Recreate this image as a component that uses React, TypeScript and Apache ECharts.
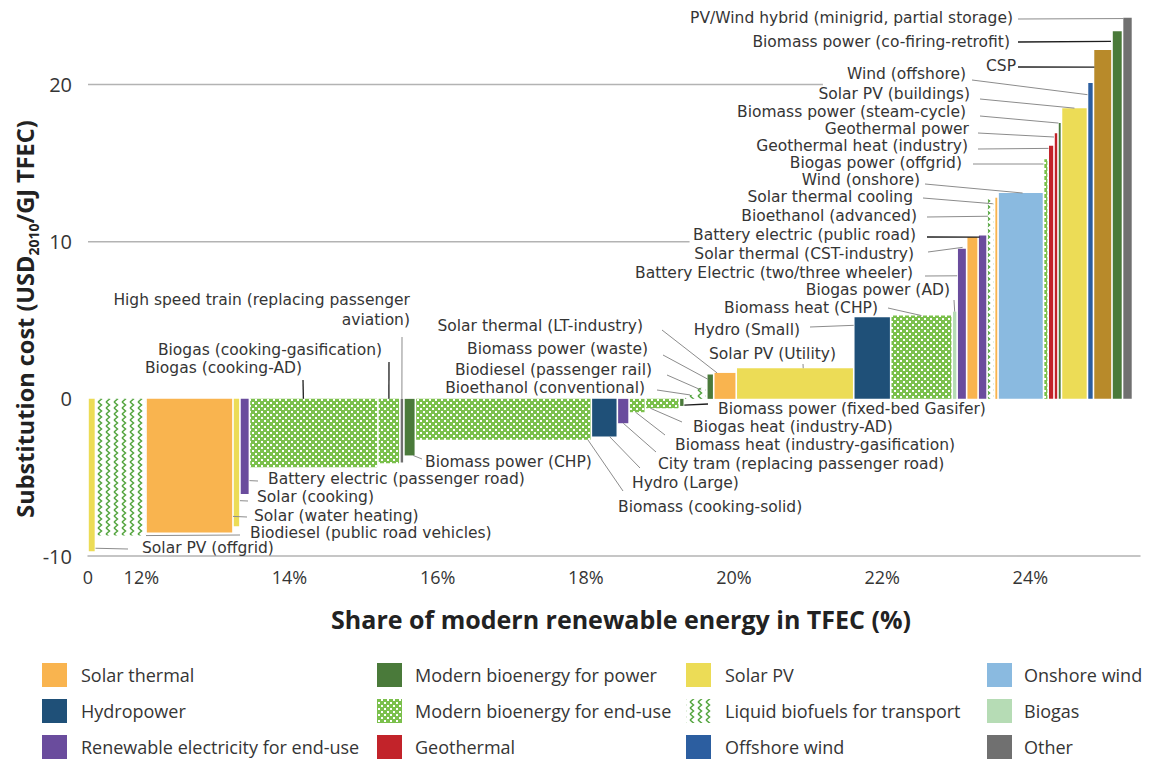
import React, { useEffect, useRef } from "react";
import * as echarts from "echarts";

// ---------------- DATA ----------------
const BASE_SHARE = 11.28; // share (%) at the start of the curve, labelled "0"
const X_MAX = 25.48;
const Y_MIN = -10;
const Y_MAX = 25;

const techNames = [
  "Solar PV (offgrid)",
  "Biodiesel (public road vehicles)",
  "Solar (water heating)",
  "Solar (cooking)",
  "Battery electric (passenger road)",
  "Biogas (cooking-AD)",
  "Biogas (cooking-gasification)",
  "High speed train (replacing passenger\naviation)",
  "Biomass power (CHP)",
  "Biomass (cooking-solid)",
  "Hydro (Large)",
  "City tram (replacing passenger road)",
  "Biomass heat (industry-gasification)",
  "Biogas heat (industry-AD)",
  "Biomass power (fixed-bed Gasifer)",
  "Bioethanol (conventional)",
  "Biodiesel (passenger rail)",
  "Biomass power (waste)",
  "Solar thermal (LT-industry)",
  "Solar PV (Utility)",
  "Hydro (Small)",
  "Biomass heat (CHP)",
  "Biogas power (AD)",
  "Battery Electric (two/three wheeler)",
  "Solar thermal (CST-industry)",
  "Battery electric (public road)",
  "Bioethanol (advanced)",
  "Solar thermal cooling",
  "Wind (onshore)",
  "Biogas power (offgrid)",
  "Geothermal heat (industry)",
  "Geothermal power",
  "Biomass power (steam-cycle)",
  "Solar PV (buildings)",
  "Wind (offshore)",
  "CSP",
  "Biomass power (co-firing-retrofit)",
  "PV/Wind hybrid (minigrid, partial storage)",
];

// added share of modern renewables in TFEC (percentage points)
const shareAdded = [
  0.101, 0.682, 1.174, 0.094, 0.128, 1.734, 0.297, 0.054, 0.155, 2.375,
  0.351, 0.159, 0.219, 0.459, 0.067, 0.155, 0.148, 0.094, 0.304, 1.586,
  0.499, 0.83, 0.067, 0.128, 0.155, 0.121, 0.101, 0.047, 0.614, 0.063,
  0.078, 0.054, 0.047, 0.351, 0.081, 0.25, 0.142, 0.135,
];

// substitution cost (USD2010/GJ TFEC)
const costs = [
  -9.7, -8.7, -8.5, -8.1, -6.05, -4.35, -4.1, -4.05, -3.6, -2.6,
  -2.4, -1.55, -0.85, -0.6, -0.45, 0.25, 0.7, 1.55, 1.65, 1.95,
  5.2, 5.3, 5.55, 9.55, 10.3, 10.4, 12.7, 12.8, 13.1, 15.25,
  16.1, 16.9, 17.55, 18.5, 20.1, 22.2, 23.4, 24.25,
];

const techGroup = [
  "pv", "liquid", "solarThermal", "pv", "elec", "bioEnd", "bioEnd", "other", "bioPower", "bioEnd",
  "hydro", "elec", "bioEnd", "bioEnd", "bioPower", "liquid", "liquid", "bioPower", "solarThermal", "pv",
  "hydro", "bioEnd", "biogas", "elec", "solarThermal", "elec", "liquid", "solarThermal", "onshore", "bioEnd",
  "geo", "geo", "bioPower", "pv", "offshore", "csp", "bioPower", "other",
];

const xTickValues = [BASE_SHARE, 12, 14, 16, 18, 20, 22, 24];
const yTickValues = [-10, 0, 10, 20];

const legendKeys = [
  ["solarThermal", "hydro", "elec"],
  ["bioPower", "bioEnd", "geo"],
  ["pv", "liquid", "offshore"],
  ["onshore", "biogas", "other"],
];
const legendLabels = [
  ["Solar thermal", "Hydropower", "Renewable electricity for end-use"],
  ["Modern bioenergy for power", "Modern bioenergy for end-use", "Geothermal"],
  ["Solar PV", "Liquid biofuels for transport", "Offshore wind"],
  ["Onshore wind", "Biogas", "Other"],
];

// ---------------- STYLE / LAYOUT ----------------
const FONT = '"Open Sans", "Noto Sans", sans-serif';
const LABEL_FONT = '"DejaVu Sans", "Open Sans", sans-serif';
const TITLE_FONT = '"Open Sans", Roboto, sans-serif';
const TEXT = "#353535";

const COLORS: Record<string, string> = {
  solarThermal: "#f9b44f",
  hydro: "#1f5078",
  elec: "#6a4c9d",
  bioPower: "#4a7a3a",
  geo: "#c2232a",
  pv: "#ecdc56",
  offshore: "#2c5ea0",
  onshore: "#8abae0",
  biogas: "#b6dcb5",
  other: "#707070",
  csp: "#b88a2a",
};

// label annotation layout: [textX, textY, align, leaderX, leaderY, barFracX, barFracY, dark]
const LABEL_LAYOUT: any[] = [
  [142, 548, "left", 128, 549, 1, 0.98, 0],
  [250, 533, "left", 240, 535, 1, 1, 0],
  [254, 516, "left", 247, 517, 1, 0.88, 0],
  [257, 497, "left", 248, 501, 1, 0.8, 0],
  [268, 479, "left", 258, 481, 1, 0.86, 0],
  [302, 368, "right", 303, 380, 0.42, 0, 1],
  [382, 350, "right", 389, 362, 0.5, 0, 1],
  [410, 310, "right", 402, 337, 0.5, 0, 0],
  [425, 462, "left", 422, 459, 0.8, 1, 0],
  [618, 507, "left", 623, 491, 0.98, 1, 0],
  [632, 483, "left", 640, 468, 0.7, 1, 0],
  [658, 464, "left", 656, 452, 0.5, 1, 0],
  [675, 445, "left", 665, 435, 0.4, 1, 0],
  [693, 427, "left", 682, 422, 0.15, 1, 0],
  [718, 409, "left", 708, 404, 1, 0.9, 1],
  [645, 388, "right", 657, 390, 0.5, 1, 0],
  [652, 370, "right", 667, 375, 0.5, 0.8, 0],
  [648, 349, "right", 663, 355, 0.2, 0.8, 0],
  [643, 326, "right", 662, 330, 0.15, 1, 0],
  [709, 354, "left", 803, 364, 0.57, 1, 0],
  [800, 330, "right", 810, 327, 0, 0.9, 0],
  [878, 308, "right", 888, 308, 0.5, 1, 0],
  [950, 290, "right", 954, 300, 0.5, 1, 0],
  [913, 273, "right", 925, 276, 0, 0.82, 0],
  [914, 254, "right", 928, 252, -0.35, 0.936, 0],
  [916, 235, "right", 927, 237, 0.17, 0.99, 1],
  [917, 216, "right", 927, 217, 0.1, 0.915, 0],
  [913, 197, "right", 923, 198, -0.5, 0.97, 0],
  [920, 180, "right", 925, 184, 0.54, 1, 0],
  [962, 163, "right", 973, 164, 0, 0.98, 0],
  [968, 146, "right", 978, 149, 0.05, 0.99, 0],
  [969, 129, "right", 978, 133, 0, 0.986, 0],
  [966, 112, "right", 980, 116, 0.15, 1, 0],
  [970, 94, "right", 980, 99, 0.5, 1, 0],
  [966, 74, "right", 972, 80, 0, 0.963, 0],
  [1016, 66, "right", 1018, 67, 0.05, 0.951, 1],
  [1010, 42, "right", 1018, 42, -0.1, 0.972, 1],
  [1013, 18, "right", 1018, 19, 0.1, 0.998, 0],
];

function makeDotPattern() {
  const c = document.createElement("canvas");
  c.width = 6;
  c.height = 6;
  const g = c.getContext("2d")!;
  g.fillStyle = "#7bc04c";
  g.fillRect(0, 0, 6, 6);
  g.fillStyle = "#ffffff";
  g.fillRect(0, 0, 2, 2);
  g.fillRect(3, 3, 2, 2);
  return { image: c, repeat: "repeat", imageWidth: 6, imageHeight: 6 };
}

function makeZigzagPattern() {
  const c = document.createElement("canvas");
  c.width = 8;
  c.height = 6;
  const g = c.getContext("2d")!;
  g.fillStyle = "#ffffff";
  g.fillRect(0, 0, 8, 6);
  g.strokeStyle = "#55a540";
  g.lineWidth = 1.5;
  g.beginPath();
  g.moveTo(2, 0);
  g.lineTo(5.5, 3);
  g.lineTo(2, 6);
  g.stroke();
  return { image: c, repeat: "repeat", imageWidth: 8, imageHeight: 6 };
}

export default function App() {
  const ref = useRef<HTMLDivElement>(null);

  useEffect(() => {
    const chart = echarts.init(ref.current!, null, { renderer: "svg" });
    const dots = makeDotPattern();
    const zig = makeZigzagPattern();
    const fillFor = (g: string): any =>
      g === "bioEnd" ? dots : g === "liquid" ? zig : COLORS[g];

    // cumulative positions built from the added shares
    const data: number[][] = [];
    let acc = BASE_SHARE;
    shareAdded.forEach((w, i) => {
      data.push([acc, acc + w, costs[i], i]);
      acc += w;
    });

    const GAP = 0.8;
    const renderItem = (params: any, api: any) => {
      const i = api.value(3);
      const p0 = api.coord([api.value(0), 0]);
      const p1 = api.coord([api.value(1), api.value(2)]);
      const xL = p0[0];
      const xR = p1[0];
      const yZ = p0[1];
      const yV = p1[1];
      const L = LABEL_LAYOUT[i];
      const bx = xL + (xR - xL) * L[5];
      const by = yZ + (yV - yZ) * L[6];
      const multi = techNames[i].indexOf("\n") >= 0;
      return {
        type: "group",
        children: [
          {
            type: "rect",
            shape: {
              x: xL + GAP,
              y: Math.min(yZ, yV),
              width: Math.max(xR - xL - 2 * GAP, 1),
              height: Math.abs(yV - yZ),
            },
            style: { fill: fillFor(techGroup[i]) },
          },
          {
            type: "line",
            z2: 5,
            shape: { x1: L[3], y1: L[4], x2: bx, y2: by },
            style: { stroke: L[7] ? "#1e1e1e" : "#8c8c8c", lineWidth: L[7] ? 1.3 : 1 },
          },
          {
            type: "text",
            z2: 6,
            x: L[0],
            y: L[1],
            style: {
              text: techNames[i],
              fill: TEXT,
              fontSize: 15.5,
              fontFamily: LABEL_FONT,
              lineHeight: multi ? 20 : 16,
              align: L[2],
              textAlign: L[2],
              verticalAlign: "middle",
              textVerticalAlign: "middle",
            },
          },
        ],
      };
    };

    // legend graphics
    const colSwatchX = [42, 377, 686, 987];
    const colTextX = [81, 415, 725, 1024];
    const rowSwatchY = [663, 699, 735];
    const rowTextY = [675, 711, 747];
    const legendEls: any[] = [];
    legendKeys.forEach((col, c) => {
      col.forEach((key, r) => {
        legendEls.push({
          type: "rect",
          shape: { x: colSwatchX[c], y: rowSwatchY[r], width: 25, height: 24 },
          style: { fill: fillFor(key) },
        });
        legendEls.push({
          type: "text",
          x: colTextX[c],
          y: rowTextY[r],
          style: {
            text: legendLabels[c][r],
            fill: TEXT,
            fontSize: 18,
            fontFamily: FONT,
            align: "left",
            textAlign: "left",
            verticalAlign: "middle",
            textVerticalAlign: "middle",
          },
        });
      });
    });

    const option: any = {
      animation: false,
      backgroundColor: "#ffffff",
      grid: { left: 88, top: 6, width: 1052, height: 550, containLabel: false },
      xAxis: {
        type: "value",
        min: BASE_SHARE,
        max: X_MAX,
        axisLine: { show: true, onZero: false, lineStyle: { color: "#b3b3b3", width: 1.5 } },
        axisTick: { show: false },
        splitLine: { show: false },
        axisLabel: {
          customValues: xTickValues,
          margin: 12,
          color: TEXT,
          fontSize: 18,
          fontFamily: FONT,
          formatter: (v: number) => (Math.abs(v - BASE_SHARE) < 1e-6 ? "0" : `${v}%`),
        },
      },
      yAxis: {
        type: "value",
        min: Y_MIN,
        max: Y_MAX,
        axisLine: { show: false },
        axisTick: { show: false },
        splitLine: { show: false },
        axisLabel: {
          customValues: yTickValues,
          margin: 16,
          color: TEXT,
          fontSize: 20,
          fontFamily: FONT,
        },
      },
      series: [
        {
          type: "line",
          z: 1,
          silent: true,
          symbol: "none",
          data: [[BASE_SHARE, 20], [21.2, 20]],
          lineStyle: { color: "#b3b3b3", width: 1.5 },
        },
        {
          type: "line",
          z: 1,
          silent: true,
          symbol: "none",
          data: [[BASE_SHARE, 10], [19.4, 10]],
          lineStyle: { color: "#b3b3b3", width: 1.5 },
        },
        {
          type: "custom",
          z: 3,
          renderItem,
          encode: { x: [0, 1], y: 2 },
          data,
          clip: false,
        },
      ],
      graphic: [
        {
          type: "text",
          x: 621,
          y: 619,
          style: {
            text: "Share of modern renewable energy in TFEC (%)",
            fill: "#222",
            fontSize: 25,
            fontWeight: "bold",
            fontFamily: TITLE_FONT,
            align: "center",
            textAlign: "center",
            verticalAlign: "middle",
            textVerticalAlign: "middle",
          },
        },
        {
          type: "text",
          x: 25,
          y: 319,
          rotation: Math.PI / 2,
          style: {
            text: "{a|Substitution cost (USD}{s|2010}{a|/GJ TFEC)}",
            fill: "#222",
            align: "center",
            textAlign: "center",
            verticalAlign: "middle",
            textVerticalAlign: "middle",
            rich: {
              a: { fontSize: 23.5, fontWeight: "bold", fontFamily: TITLE_FONT, fill: "#222", lineHeight: 30 },
              s: { fontSize: 14, fontWeight: "bold", fontFamily: TITLE_FONT, fill: "#222", lineHeight: 30, verticalAlign: "bottom", padding: [11, 0, 0, 0] },
            },
          },
        },
        ...legendEls,
      ],
    };

    chart.setOption(option);
    return () => chart.dispose();
  }, []);

  return (
    <div
      ref={ref}
      style={{ position: "absolute", left: 0, top: 0, width: 1153, height: 762, background: "#fff" }}
    />
  );
}
